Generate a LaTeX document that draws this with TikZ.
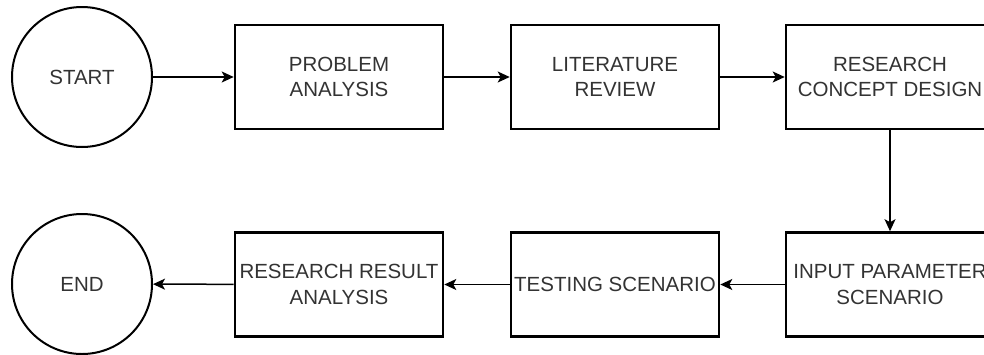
\documentclass[tikz,border=0pt]{standalone}
\usepackage{fontspec}
\setmainfont{Liberation Sans}
\usetikzlibrary{arrows.meta}
\definecolor{txt}{HTML}{333333}
\begin{document}
\begin{tikzpicture}[x=1pt,y=-1pt,
  stepbox/.style={draw=black,line width=2.6pt,minimum width=208pt,minimum height=104pt,
    inner sep=0pt,align=center,text=txt,font=\fontsize{20.5}{25.5}\selectfont},
  terminal/.style={draw=black,circle,line width=2pt,minimum size=140pt,inner sep=0pt,
    text=txt,font=\fontsize{20.5}{25.5}\selectfont},
  conn/.style={draw=black,line width=1.5pt,-{Stealth[length=12pt,width=11pt,inset=3pt]}}]
\useasboundingbox (0,0) rectangle (984,354);
\clip (0,0) rectangle (984,354);
\node[terminal] (start) at (82,77) {START};
\node[stepbox] (pa) at (339,77) {PROBLEM\\ANALYSIS};
\node[stepbox] (lr) at (615,77) {LITERATURE\\REVIEW};
\node[stepbox] (rcd) at (890,77) {RESEARCH\\CONCEPT DESIGN};
\node[stepbox] (ips) at (890,284.5) {INPUT PARAMETER\\SCENARIO};
\node[stepbox] (ts) at (615,284.5) {TESTING SCENARIO};
\node[stepbox] (rra) at (339,284.5) {RESEARCH RESULT\\ANALYSIS};
\node[terminal] (end) at (82,284) {END};
\draw[conn] (start) -- (pa);
\draw[conn] (pa) -- (lr);
\draw[conn] (lr) -- (rcd);
\draw[conn] (rcd) -- (ips);
\draw[conn] (ips) -- (ts);
\draw[conn] (ts) -- (rra);
\draw[conn] (rra) -- (end);
\end{tikzpicture}
\end{document}
